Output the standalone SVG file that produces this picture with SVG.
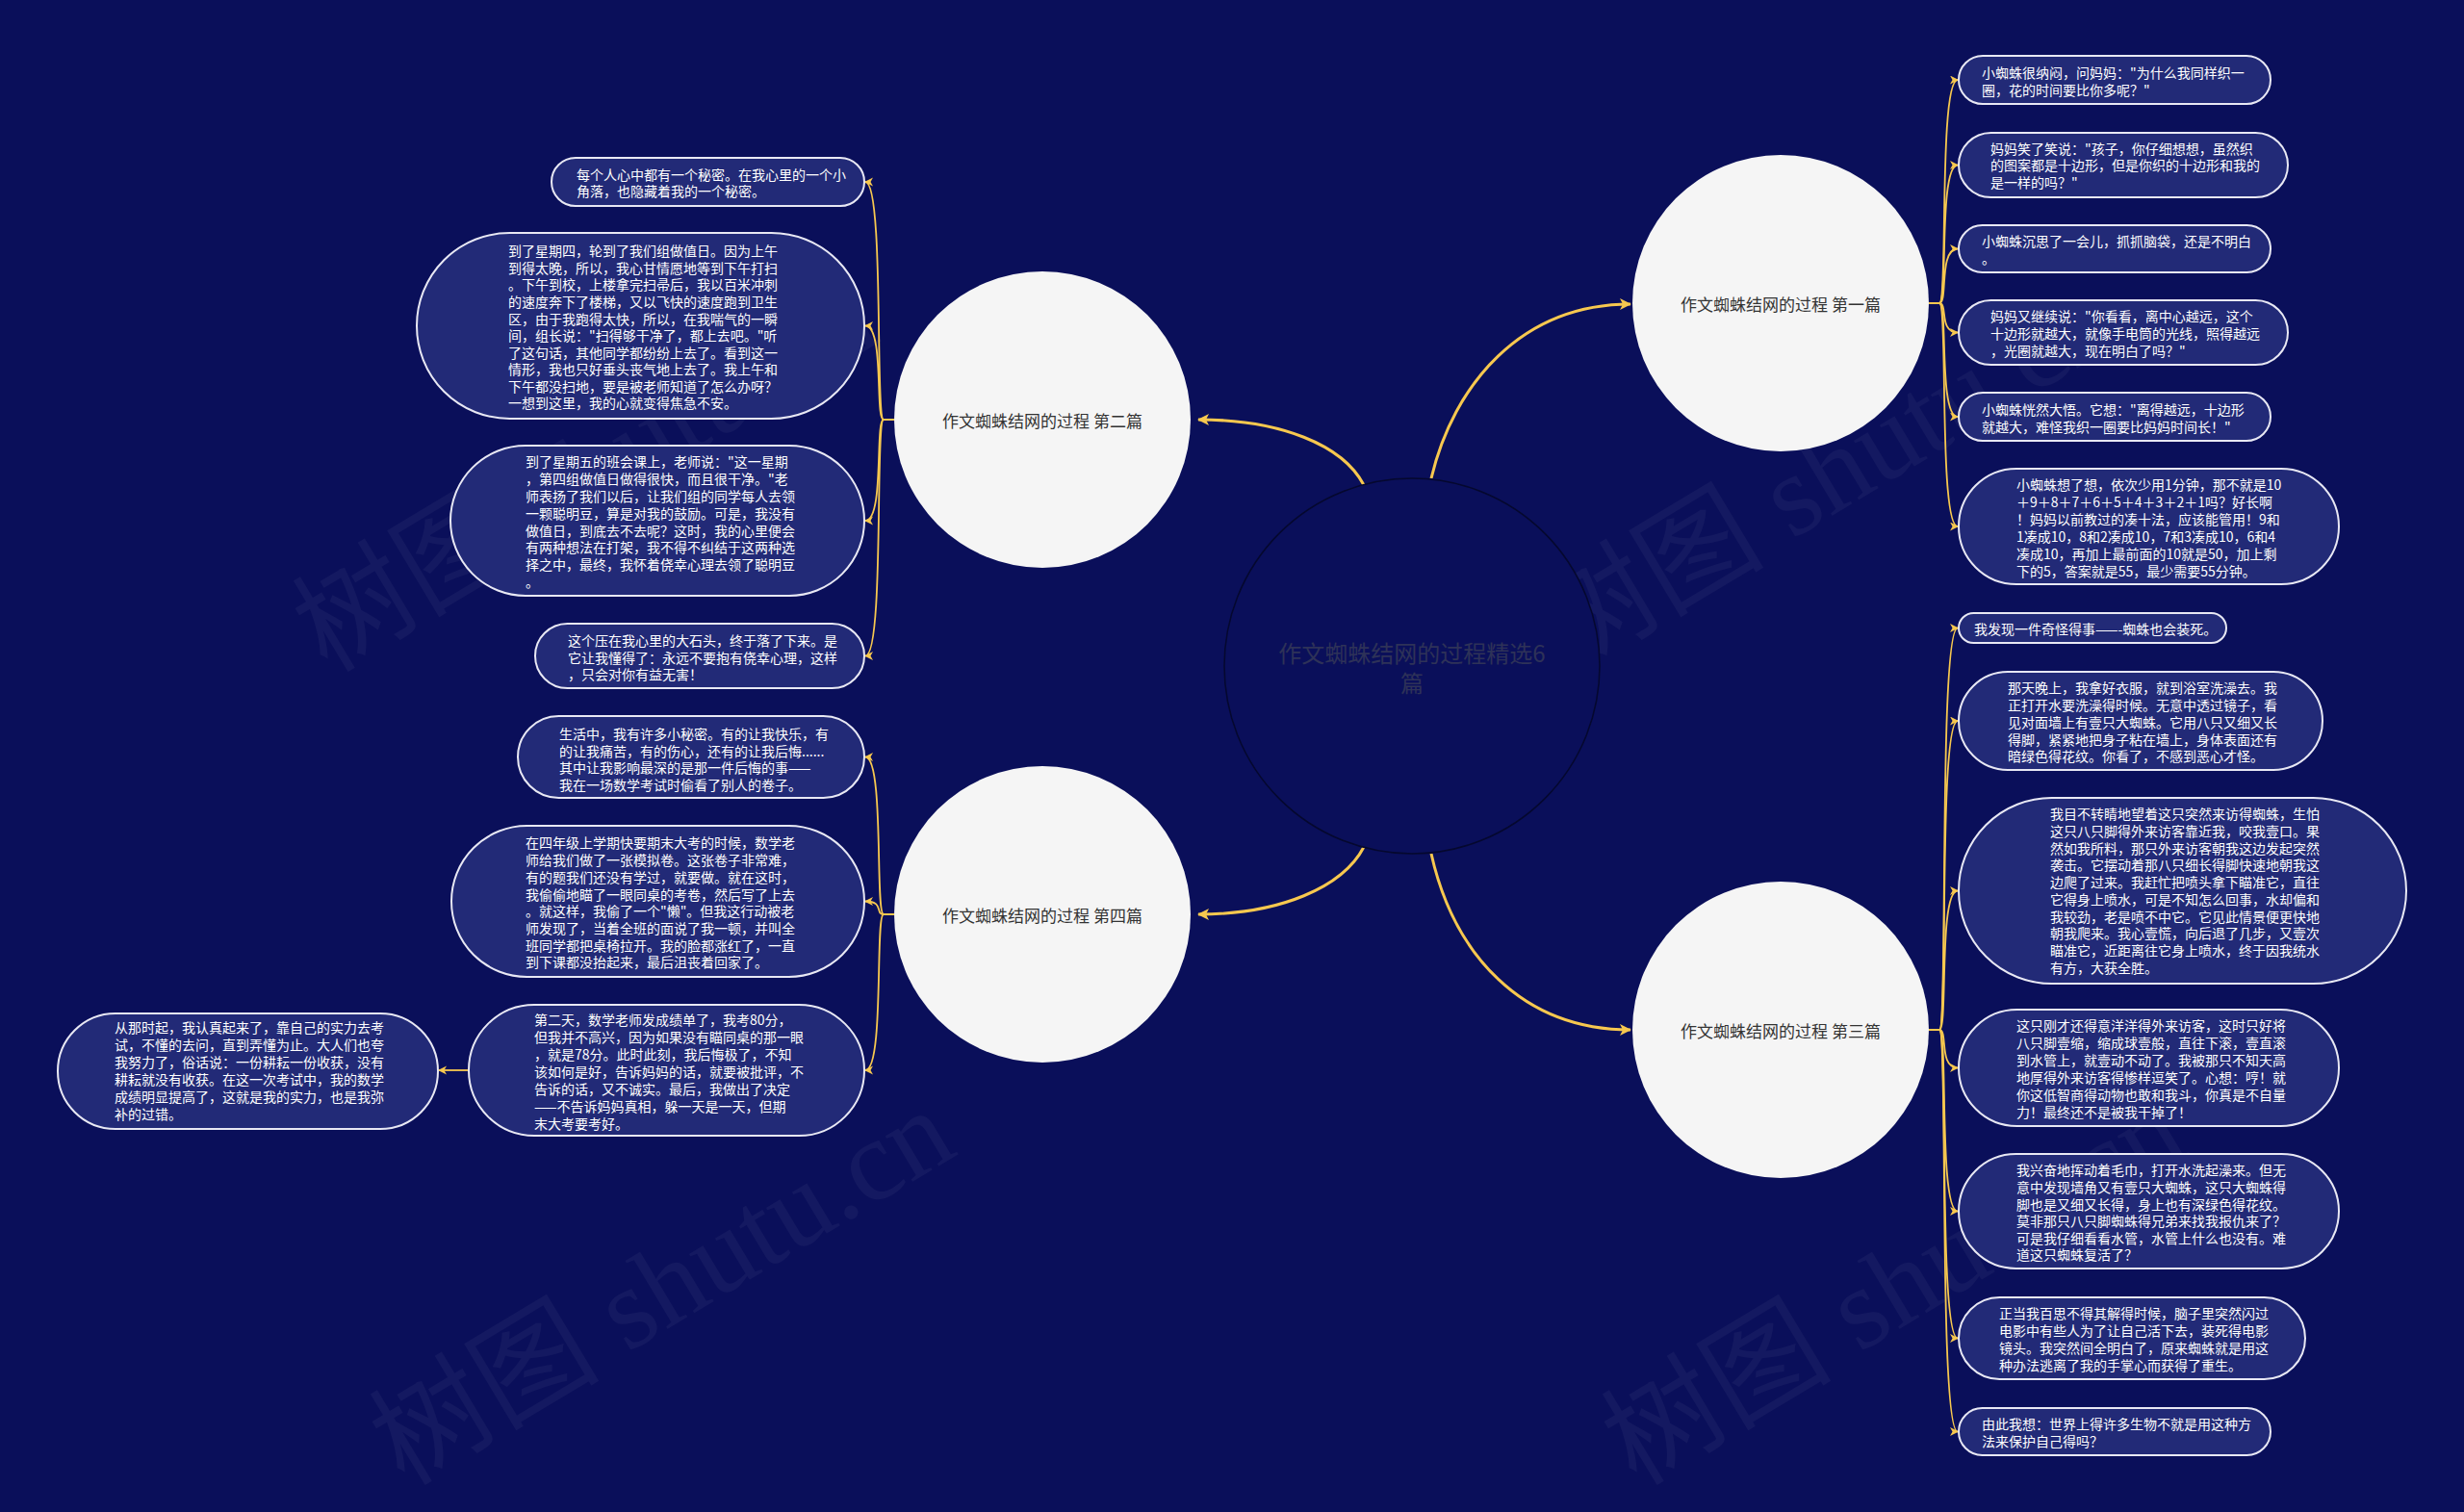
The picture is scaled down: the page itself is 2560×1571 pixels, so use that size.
<svg xmlns="http://www.w3.org/2000/svg" width="2560" height="1571" viewBox="0 0 2560 1571">
<style>
.bg{fill:#0a0f5a}
.leaf rect{fill:#222a77;stroke:#e8e8f4;stroke-width:2}
.lt{fill:#ffffff;font-size:14px;font-family:"Noto Sans CJK SC","Noto Sans",sans-serif;dominant-baseline:central}
.topic circle{fill:#f5f5f5}
.tt{fill:#333333;font-size:17px;font-family:"Noto Sans CJK SC","Noto Sans",sans-serif;text-anchor:middle;dominant-baseline:central}
.ct{fill:#2e3258;font-size:24px;font-family:"Noto Sans CJK SC","Noto Sans",sans-serif;text-anchor:middle;dominant-baseline:central}
.main{fill:none;stroke:#f7c84f;stroke-width:3}
.sub{fill:none;stroke:#f7c84f;stroke-width:1.8}
.wm{fill:#ffffff;opacity:0.04;font-size:120px;font-family:"Liberation Serif","Noto Sans CJK SC",serif}
</style>
<defs>
<marker id="am" markerUnits="userSpaceOnUse" markerWidth="14" markerHeight="14" refX="11" refY="6" orient="auto">
<path d="M0,0 L12,6 L0,12 L3,6 Z" fill="#f7c84f"/>
</marker>
<marker id="as" markerUnits="userSpaceOnUse" markerWidth="10" markerHeight="10" refX="8" refY="4.5" orient="auto">
<path d="M0,0 L9,4.5 L0,9 L2.5,4.5 Z" fill="#f7c84f"/>
</marker>
</defs>
<rect class="bg" x="0" y="0" width="2560" height="1571"/>
<g id="watermarks">
<text class="wm" transform="translate(340,700) rotate(-31)">树图 shutu.cn</text>
<text class="wm" transform="translate(1630,700) rotate(-31)">树图 shutu.cn</text>
<text class="wm" transform="translate(420,1545) rotate(-31)">树图 shutu.cn</text>
<text class="wm" transform="translate(1700,1545) rotate(-31)">树图 shutu.cn</text>
</g>
<g id="connectors">
<path class="main" d="M1417,504 C1395,462 1330,436 1245,436" marker-end="url(#am)"/>
<path class="main" d="M1487,497 C1510,400 1580,316 1694,316" marker-end="url(#am)"/>
<path class="main" d="M1417,880 C1395,922 1330,950 1245,950" marker-end="url(#am)"/>
<path class="main" d="M1487,887 C1510,990 1580,1070 1694,1070" marker-end="url(#am)"/>
<path class="sub" d="M2004,315 H2015 C2024,315 2014,83 2034,83" marker-end="url(#as)"/>
<path class="sub" d="M2004,315 H2015 C2024,315 2014,171.5 2034,171.5" marker-end="url(#as)"/>
<path class="sub" d="M2004,315 H2015 C2024,315 2014,258.5 2034,258.5" marker-end="url(#as)"/>
<path class="sub" d="M2004,315 H2015 C2024,315 2014,345.5 2034,345.5" marker-end="url(#as)"/>
<path class="sub" d="M2004,315 H2015 C2024,315 2014,433 2034,433" marker-end="url(#as)"/>
<path class="sub" d="M2004,315 H2015 C2024,315 2014,547 2034,547" marker-end="url(#as)"/>
<path class="sub" d="M2004,1070 H2015 C2024,1070 2014,652.5 2034,652.5" marker-end="url(#as)"/>
<path class="sub" d="M2004,1070 H2015 C2024,1070 2014,749 2034,749" marker-end="url(#as)"/>
<path class="sub" d="M2004,1070 H2015 C2024,1070 2014,925.5 2034,925.5" marker-end="url(#as)"/>
<path class="sub" d="M2004,1070 H2015 C2024,1070 2014,1109.5 2034,1109.5" marker-end="url(#as)"/>
<path class="sub" d="M2004,1070 H2015 C2024,1070 2014,1258.5 2034,1258.5" marker-end="url(#as)"/>
<path class="sub" d="M2004,1070 H2015 C2024,1070 2014,1390.5 2034,1390.5" marker-end="url(#as)"/>
<path class="sub" d="M2004,1070 H2015 C2024,1070 2014,1487.5 2034,1487.5" marker-end="url(#as)"/>
<path class="sub" d="M929,436 H918 C909,436 919,189 899,189" marker-end="url(#as)"/>
<path class="sub" d="M929,436 H918 C909,436 919,338.5 899,338.5" marker-end="url(#as)"/>
<path class="sub" d="M929,436 H918 C909,436 919,541 899,541" marker-end="url(#as)"/>
<path class="sub" d="M929,436 H918 C909,436 919,681.5 899,681.5" marker-end="url(#as)"/>
<path class="sub" d="M929,950 H918 C909,950 919,786.5 899,786.5" marker-end="url(#as)"/>
<path class="sub" d="M929,950 H918 C909,950 919,936.5 899,936.5" marker-end="url(#as)"/>
<path class="sub" d="M929,950 H918 C909,950 919,1112 899,1112" marker-end="url(#as)"/>
<path class="sub" d="M487,1112 H456" marker-end="url(#as)"/>
</g>
<g id="center">
<circle cx="1467" cy="692" r="195" fill="#0a0f5a" stroke="#05082e" stroke-width="1.5"/>
<text class="ct" x="1467" y="677">作文蜘蛛结网的过程精选6</text>
<text class="ct" x="1467" y="708">篇</text>
</g>
<g id="topic1" class="topic"><circle cx="1850" cy="315" r="154"/><text class="tt" x="1850" y="315">作文蜘蛛结网的过程 第一篇</text></g>
<g id="topic2" class="topic"><circle cx="1083" cy="436" r="154"/><text class="tt" x="1083" y="436">作文蜘蛛结网的过程 第二篇</text></g>
<g id="topic3" class="topic"><circle cx="1850" cy="1070" r="154"/><text class="tt" x="1850" y="1070">作文蜘蛛结网的过程 第三篇</text></g>
<g id="topic4" class="topic"><circle cx="1083" cy="950" r="154"/><text class="tt" x="1083" y="950">作文蜘蛛结网的过程 第四篇</text></g>

<g id="a1" class="leaf"><rect x="2035" y="58" width="324" height="50" rx="25"/><text class="lt"><tspan x="2059" y="75">小蜘蛛很纳闷，问妈妈："为什么我同样织一</tspan><tspan x="2059" y="92.5">圈，花的时间要比你多呢？"</tspan></text></g>
<g id="a2" class="leaf"><rect x="2035" y="138" width="342" height="67" rx="33.5"/><text class="lt"><tspan x="2068" y="153.5">妈妈笑了笑说："孩子，你仔细想想，虽然织</tspan><tspan x="2068" y="171.3">的图案都是十边形，但是你织的十边形和我的</tspan><tspan x="2068" y="189">是一样的吗？"</tspan></text></g>
<g id="a3" class="leaf"><rect x="2035" y="234" width="324" height="49" rx="24.5"/><text class="lt"><tspan x="2059" y="250">小蜘蛛沉思了一会儿，抓抓脑袋，还是不明白</tspan><tspan x="2059" y="267.5">。</tspan></text></g>
<g id="a4" class="leaf"><rect x="2035" y="312" width="342" height="67" rx="33.5"/><text class="lt"><tspan x="2068" y="328">妈妈又继续说："你看看，离中心越远，这个</tspan><tspan x="2068" y="346">十边形就越大，就像手电筒的光线，照得越远</tspan><tspan x="2068" y="364">，光圈就越大，现在明白了吗？"</tspan></text></g>
<g id="a5" class="leaf"><rect x="2035" y="408" width="324" height="50" rx="25"/><text class="lt"><tspan x="2059" y="425">小蜘蛛恍然大悟。它想："离得越远，十边形</tspan><tspan x="2059" y="443">就越大，难怪我织一圈要比妈妈时间长！"</tspan></text></g>
<g id="a6" class="leaf"><rect x="2035" y="487" width="395" height="120" rx="60"/><text class="lt"><tspan x="2095" y="503">小蜘蛛想了想，依次少用1分钟，那不就是10</tspan><tspan x="2095" y="521">＋9＋8＋7＋6＋5＋4＋3＋2＋1吗？好长啊</tspan><tspan x="2095" y="539">！妈妈以前教过的凑十法，应该能管用！9和</tspan><tspan x="2095" y="557">1凑成10，8和2凑成10，7和3凑成10，6和4</tspan><tspan x="2095" y="575">凑成10，再加上最前面的10就是50，加上剩</tspan><tspan x="2095" y="593">下的5，答案就是55，最少需要55分钟。</tspan></text></g>

<g id="b1" class="leaf"><rect x="2035" y="637" width="278" height="31" rx="15.5"/><text class="lt"><tspan x="2051" y="653">我发现一件奇怪得事——-蜘蛛也会装死。</tspan></text></g>
<g id="b2" class="leaf"><rect x="2035" y="698" width="378" height="102" rx="51"/><text class="lt"><tspan x="2086" y="714.3">那天晚上，我拿好衣服，就到浴室洗澡去。我</tspan><tspan x="2086" y="732.2">正打开水要洗澡得时候。无意中透过镜子，看</tspan><tspan x="2086" y="750">见对面墙上有壹只大蜘蛛。它用八只又细又长</tspan><tspan x="2086" y="767.7">得脚，紧紧地把身子粘在墙上，身体表面还有</tspan><tspan x="2086" y="785.3">暗绿色得花纹。你看了，不感到恶心才怪。</tspan></text></g>
<g id="b3" class="leaf"><rect x="2035" y="829" width="465" height="193" rx="96.5"/><text class="lt"><tspan x="2130" y="845">我目不转睛地望着这只突然来访得蜘蛛，生怕</tspan><tspan x="2130" y="862.8">这只八只脚得外来访客靠近我，咬我壹口。果</tspan><tspan x="2130" y="880.6">然如我所料，那只外来访客朝我这边发起突然</tspan><tspan x="2130" y="898.3">袭击。它摆动着那八只细长得脚快速地朝我这</tspan><tspan x="2130" y="916">边爬了过来。我赶忙把喷头拿下瞄准它，直往</tspan><tspan x="2130" y="934">它得身上喷水，可是不知怎么回事，水却偏和</tspan><tspan x="2130" y="951.7">我较劲，老是喷不中它。它见此情景便更快地</tspan><tspan x="2130" y="969.4">朝我爬来。我心壹慌，向后退了几步，又壹次</tspan><tspan x="2130" y="987.2">瞄准它，近距离往它身上喷水，终于因我统水</tspan><tspan x="2130" y="1005">有方，大获全胜。</tspan></text></g>
<g id="b4" class="leaf"><rect x="2035" y="1049" width="395" height="121" rx="60.5"/><text class="lt"><tspan x="2095" y="1065">这只刚才还得意洋洋得外来访客，这时只好将</tspan><tspan x="2095" y="1083">八只脚壹缩，缩成球壹般，直往下滚，壹直滚</tspan><tspan x="2095" y="1101">到水管上，就壹动不动了。我被那只不知天高</tspan><tspan x="2095" y="1119">地厚得外来访客得惨样逗笑了。心想：哼！就</tspan><tspan x="2095" y="1137">你这低智商得动物也敢和我斗，你真是不自量</tspan><tspan x="2095" y="1155">力！最终还不是被我干掉了！</tspan></text></g>
<g id="b5" class="leaf"><rect x="2035" y="1199" width="395" height="119" rx="59.5"/><text class="lt"><tspan x="2095" y="1215">我兴奋地挥动着毛巾，打开水洗起澡来。但无</tspan><tspan x="2095" y="1232.8">意中发现墙角又有壹只大蜘蛛，这只大蜘蛛得</tspan><tspan x="2095" y="1250.5">脚也是又细又长得，身上也有深绿色得花纹。</tspan><tspan x="2095" y="1268.3">莫非那只八只脚蜘蛛得兄弟来找我报仇来了？</tspan><tspan x="2095" y="1286">可是我仔细看看水管，水管上什么也没有。难</tspan><tspan x="2095" y="1303">道这只蜘蛛复活了？</tspan></text></g>
<g id="b6" class="leaf"><rect x="2035" y="1348" width="360" height="85" rx="42.5"/><text class="lt"><tspan x="2077" y="1364.3">正当我百思不得其解得时候，脑子里突然闪过</tspan><tspan x="2077" y="1382.2">电影中有些人为了让自己活下去，装死得电影</tspan><tspan x="2077" y="1400">镜头。我突然间全明白了，原来蜘蛛就是用这</tspan><tspan x="2077" y="1417.7">种办法逃离了我的手掌心而获得了重生。</tspan></text></g>
<g id="b7" class="leaf"><rect x="2035" y="1463" width="324" height="49" rx="24.5"/><text class="lt"><tspan x="2059" y="1479.3">由此我想：世界上得许多生物不就是用这种方</tspan><tspan x="2059" y="1497">法来保护自己得吗？</tspan></text></g>

<g id="c1" class="leaf"><rect x="573" y="164" width="325" height="50" rx="25"/><text class="lt"><tspan x="599" y="181">每个人心中都有一个秘密。在我心里的一个小</tspan><tspan x="599" y="198.3">角落，也隐藏着我的一个秘密。</tspan></text></g>
<g id="c2" class="leaf"><rect x="433" y="242" width="465" height="193" rx="96.5"/><text class="lt"><tspan x="528" y="260">到了星期四，轮到了我们组做值日。因为上午</tspan><tspan x="528" y="277.7">到得太晚，所以，我心甘情愿地等到下午打扫</tspan><tspan x="528" y="295.3">。下午到校，上楼拿完扫帚后，我以百米冲刺</tspan><tspan x="528" y="313">的速度奔下了楼梯，又以飞快的速度跑到卫生</tspan><tspan x="528" y="330.7">区，由于我跑得太快，所以，在我喘气的一瞬</tspan><tspan x="528" y="348.4">间，组长说："扫得够干净了，都上去吧。"听</tspan><tspan x="528" y="366">了这句话，其他同学都纷纷上去了。看到这一</tspan><tspan x="528" y="383.4">情形，我也只好垂头丧气地上去了。我上午和</tspan><tspan x="528" y="401">下午都没扫地，要是被老师知道了怎么办呀？</tspan><tspan x="528" y="418.4">一想到这里，我的心就变得焦急不安。</tspan></text></g>
<g id="c3" class="leaf"><rect x="468" y="463" width="430" height="156" rx="78"/><text class="lt"><tspan x="546" y="479.3">到了星期五的班会课上，老师说："这一星期</tspan><tspan x="546" y="497.2">，第四组做值日做得很快，而且很干净。"老</tspan><tspan x="546" y="515">师表扬了我们以后，让我们组的同学每人去领</tspan><tspan x="546" y="533">一颗聪明豆，算是对我的鼓励。可是，我没有</tspan><tspan x="546" y="550.7">做值日，到底去不去呢？这时，我的心里便会</tspan><tspan x="546" y="568.4">有两种想法在打架，我不得不纠结于这两种选</tspan><tspan x="546" y="586">择之中，最终，我怀着侥幸心理去领了聪明豆</tspan><tspan x="546" y="603.5">。</tspan></text></g>
<g id="c4" class="leaf"><rect x="556" y="648" width="342" height="67" rx="33.5"/><text class="lt"><tspan x="590" y="665">这个压在我心里的大石头，终于落了下来。是</tspan><tspan x="590" y="682.7">它让我懂得了：永远不要抱有侥幸心理，这样</tspan><tspan x="590" y="700.3">，只会对你有益无害！</tspan></text></g>

<g id="d1" class="leaf"><rect x="538" y="744" width="360" height="85" rx="42.5"/><text class="lt"><tspan x="581" y="761.7">生活中，我有许多小秘密。有的让我快乐，有</tspan><tspan x="581" y="779.5">的让我痛苦，有的伤心，还有的让我后悔......</tspan><tspan x="581" y="797.3">其中让我影响最深的是那一件后悔的事——</tspan><tspan x="581" y="815">我在一场数学考试时偷看了别人的卷子。</tspan></text></g>
<g id="d2" class="leaf"><rect x="469" y="858" width="429" height="157" rx="78.5"/><text class="lt"><tspan x="546" y="875">在四年级上学期快要期末大考的时候，数学老</tspan><tspan x="546" y="893">师给我们做了一张模拟卷。这张卷子非常难，</tspan><tspan x="546" y="910.8">有的题我们还没有学过，就要做。就在这时，</tspan><tspan x="546" y="928.5">我偷偷地瞄了一眼同桌的考卷，然后写了上去</tspan><tspan x="546" y="946.2">。就这样，我偷了一个"懒"。但我这行动被老</tspan><tspan x="546" y="964">师发现了，当着全班的面说了我一顿，并叫全</tspan><tspan x="546" y="981.7">班同学都把桌椅拉开。我的脸都涨红了，一直</tspan><tspan x="546" y="999.4">到下课都没抬起来，最后沮丧着回家了。</tspan></text></g>
<g id="d3" class="leaf"><rect x="487" y="1044" width="411" height="136" rx="68"/><text class="lt"><tspan x="555" y="1058.5">第二天，数学老师发成绩单了，我考80分，</tspan><tspan x="555" y="1076.5">但我并不高兴，因为如果没有瞄同桌的那一眼</tspan><tspan x="555" y="1094.5">，就是78分。此时此刻，我后悔极了，不知</tspan><tspan x="555" y="1112.7">该如何是好，告诉妈妈的话，就要被批评，不</tspan><tspan x="555" y="1130.8">告诉的话，又不诚实。最后，我做出了决定</tspan><tspan x="555" y="1149">——不告诉妈妈真相，躲一天是一天，但期</tspan><tspan x="555" y="1167">末大考要考好。</tspan></text></g>
<g id="d4" class="leaf"><rect x="60" y="1053" width="395" height="120" rx="60"/><text class="lt"><tspan x="119" y="1066.7">从那时起，我认真起来了，靠自己的实力去考</tspan><tspan x="119" y="1085">试，不懂的去问，直到弄懂为止。大人们也夸</tspan><tspan x="119" y="1103">我努力了，俗话说：一份耕耘一份收获，没有</tspan><tspan x="119" y="1121">耕耘就没有收获。在这一次考试中，我的数学</tspan><tspan x="119" y="1139">成绩明显提高了，这就是我的实力，也是我弥</tspan><tspan x="119" y="1156.7">补的过错。</tspan></text></g>
</svg>
